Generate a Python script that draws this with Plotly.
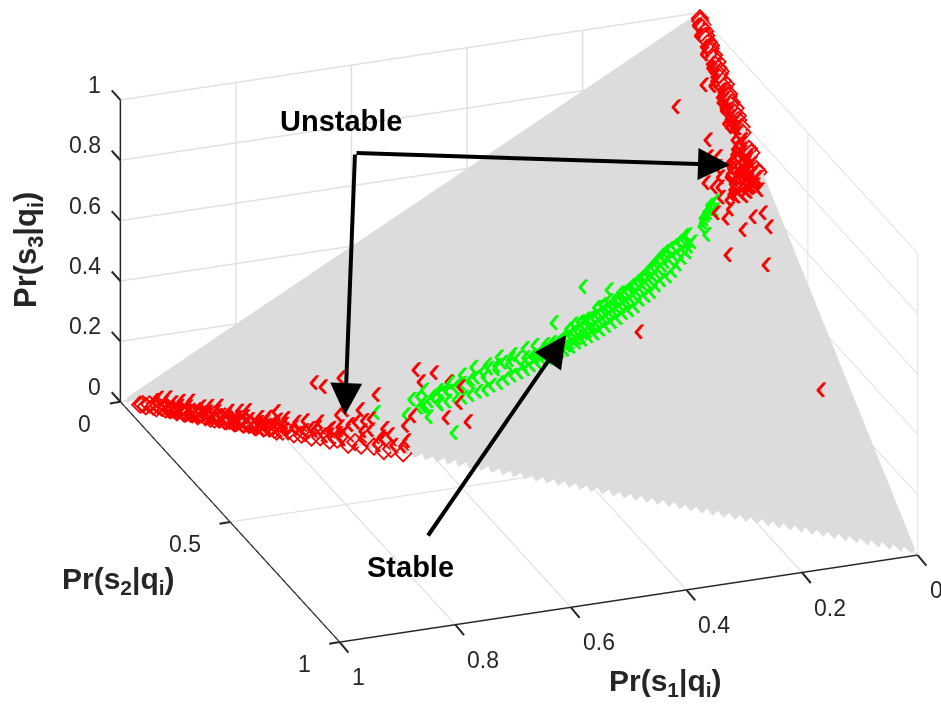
import numpy as np
import plotly.graph_objects as go

# Pr(s1|q), Pr(s3|q) for the red (unstable) points; Pr(s2|q) closes the simplex
red_s1 = [0.975,0.971,0.968,0.962,0.958,0.955,0.951,0.947,0.943,0.94,0.936,0.932,0.929,0.925,0.921,0.918,0.914,0.911,0.907,0.903,
0.9,0.896,0.893,0.889,0.885,0.882,0.878,0.875,0.871,0.867,0.864,0.86,0.857,0.853,0.849,0.846,0.842,0.838,0.835,0.831,
0.827,0.824,0.82,0.816,0.812,0.808,0.804,0.8,0.796,0.793,0.788,0.782,0.778,0.772,0.766,0.76,0.755,0.748,0.742,0.737,
0.731,0.726,0.72,0.714,0.709,0.703,0.697,0.691,0.686,0.68,0.675,0.669,0.663,0.658,0.652,0.644,0.7,0.678,0.675,0.651,
0.698,0.678,0.664,0.71,0.69,0.668,0.655,0.64,0.632,0.72,
0.7257,0.7157,0.6863,0.7934,0.648,0.5799,0.5797,0.557,0.5416,0.2557,0.0401,0.0461,0.0314,0.0816,
0.5416,0.528,0.5395,0.5655,0.5378,0.61,0.625,
0.001,0.002,0.001,0.003,0.001,0.002,0.004,0.002,0.001,0.003,0.005,0.002,0.004,0.001,0.006,0.003,0.002,0.005,0.007,0.004,
0.002,0.006,0.008,0.003,0.005,0.009,0.004,0.007,0.002,0.01,0.006,0.003,0.011,0.005,0.008,0.012,0.004,0.009,0.014,0.006,
0.0153,0.0205,0.0563,0.0642,0.0826,0.0739,0.048,0.0607,0.0855,0.0582,0.0374,0.0216,0.0211,0.0923,
0.0159,0.0131,0.0498,0.0196,0.012,0.018,0.024,0.028,0.008,0.032,0.014,0.02,0.036,0.01,0.026,0.03,0.006,0.022,0.04,0.016,
0.012,0.034,0.018,0.027,0.009,0.044,0.023,0.015,0.03,0.005,0.038,0.02,0.011,0.026,0.042,0.017,0.008,0.033,0.024,0.013,
0.028,0.046,0.019,0.007,0.035,0.022,0.05,0.012,0.031,0.016,0.009,0.04,0.025,0.014,0.037,0.006,0.021,0.029,0.048,0.011,
0.938,0.934,0.93,0.927,0.923,0.92,0.916,0.912,0.909,0.905,0.902,0.898,0.894,0.891,0.887,0.884,0.88,0.876,0.873,0.869,
0.866,0.862,0.859,0.855,0.851,0.848,0.844,0.84,0.837,0.833,0.829,0.826,0.822,0.818,0.814,0.81,0.806,0.802,0.798,0.794,
0.012,0.015,0.011,0.018,0.013,0.016,0.02,0.014,0.017,0.022,0.052,0.06,0.066,0.058,0.07,0.045,0.054,0.064,0.041,0.075,
0.952,0.945,0.941,0.933,0.928,0.922,0.917,0.91,0.904,0.899,0.892,0.886,0.881,0.874,0.868,0.861,0.856,0.85,0.843,0.838,
0.832,0.825,0.819,0.813,0.807,0.801,0.795,0.789,0.784,0.778,0.771,0.765,0.759,0.752,0.746,0.74,0.733,0.727,0.721,0.715,
0.009,0.012,0.01,0.014,0.009,0.013,0.011,0.015,0.01,0.016,0.012,0.018,0.011,0.017,0.013]
red_s3 = [0.002,0.004,0.001,0.006,0.003,0.001,0.007,0.004,0.002,0.008,0.003,0.005,0.001,0.007,0.004,0.002,0.009,0.003,0.006,0.001,
0.005,0.008,0.002,0.004,0.007,0.001,0.006,0.003,0.009,0.002,0.005,0.008,0.001,0.004,0.007,0.002,0.01,0.003,0.006,0.001,
0.005,0.009,0.002,0.012,0.004,0.007,0.001,0.01,0.003,0.013,0.006,0.002,0.016,0.004,0.009,0.002,0.02,0.006,0.012,0.003,
0.024,0.008,0.016,0.002,0.028,0.01,0.005,0.02,0.035,0.008,0.014,0.003,0.026,0.01,0.018,0.006,0.0424,0.0762,0.04,0.0377,
0.0704,0.056,0.03,0.058,0.05,0.062,0.048,0.02,0.032,0.012,
0.1125,0.108,0.1329,0.04,0.1124,0.1777,0.1556,0.1786,0.1664,0.3393,0.2932,0.5221,0.8583,0.8036,
0.1664,0.161,0.1282,0.0932,0.0937,0.084,0.062,
0.99,0.985,0.978,0.972,0.966,0.958,0.952,0.946,0.94,0.934,0.928,0.922,0.916,0.91,0.904,0.898,0.892,0.886,0.88,0.874,
0.868,0.862,0.856,0.85,0.845,0.84,0.834,0.829,0.824,0.82,0.815,0.81,0.806,0.801,0.797,0.793,0.789,0.785,0.781,0.778,
0.8168,0.7839,0.7498,0.7162,0.6631,0.6581,0.6839,0.6379,0.6069,0.5833,0.6131,0.625,0.5993,0.5275,
0.7188,0.6698,0.6502,0.7602,0.774,0.752,0.742,0.731,0.764,0.722,0.745,0.735,0.714,0.757,0.726,0.709,0.748,0.718,0.702,0.738,
0.729,0.696,0.712,0.703,0.734,0.69,0.706,0.724,0.698,0.741,0.685,0.711,0.727,0.693,0.68,0.704,0.72,0.688,0.676,0.7,
0.682,0.672,0.692,0.71,0.669,0.684,0.66,0.701,0.664,0.678,0.694,0.656,0.67,0.686,0.652,0.705,0.674,0.662,0.648,0.69,
0.003,0.006,0.002,0.005,0.008,0.001,0.004,0.007,0.003,0.009,0.002,0.006,0.004,0.008,0.001,0.005,0.01,0.003,0.007,0.002,
0.011,0.004,0.008,0.002,0.006,0.013,0.003,0.009,0.005,0.014,0.002,0.007,0.012,0.004,0.016,0.008,0.003,0.018,0.006,0.011,
0.89,0.87,0.85,0.83,0.81,0.8,0.86,0.84,0.82,0.79,0.72,0.68,0.66,0.7,0.64,0.69,0.65,0.62,0.71,0.6,
0.016,0.022,0.014,0.026,0.018,0.013,0.024,0.016,0.028,0.014,0.021,0.013,0.025,0.017,0.029,0.015,0.023,0.013,0.027,0.018,
0.031,0.014,0.022,0.016,0.026,0.013,0.024,0.018,0.03,0.015,0.027,0.013,0.033,0.017,0.024,0.036,0.014,0.028,0.02,0.034,
0.975,0.955,0.935,0.92,0.905,0.895,0.88,0.865,0.855,0.84,0.828,0.815,0.805,0.795,0.785]

# green (stable) points
grn_s1 = [0.6579,0.6182,0.5893,0.5662,0.5628,0.588,0.3071,0.2734,0.3663,
0.602,0.596,0.59,0.585,0.578,0.572,0.566,0.56,0.554,0.548,0.542,0.536,0.53,0.525,0.519,0.513,0.507,0.502,0.496,0.49,0.485,
0.479,0.473,0.468,0.462,0.457,0.451,0.446,0.44,0.435,0.429,0.424,0.419,0.414,0.409,0.404,0.4,0.396,0.392,0.388,0.384,
0.381,0.378,0.375,0.372,0.369,0.366,0.363,0.36,0.357,0.354,0.351,0.348,0.345,0.342,0.339,0.336,0.333,0.33,0.327,0.324,
0.321,0.318,0.315,0.312,0.309,0.306,0.303,0.3,0.297,0.294,0.291,0.288,0.285,0.282,0.279,0.276,0.273,0.27,0.267,0.264,
0.261,0.258,0.255,0.252,0.249,0.246,0.243,0.24,0.237,0.234,0.231,0.228,0.225,0.222,0.219,0.216,0.213,0.21,0.207,0.204,
0.201,0.198,0.195,0.192,0.189,0.186,0.183,0.18,0.176,0.172,0.168,0.164,0.16,0.156,0.152,0.148,0.144,0.14,0.136,0.133,
0.112,0.108,0.104,0.1,0.096,0.092,0.09,0.098,0.106,0.085,0.08,0.11,
0.395,0.39,0.385,0.38,0.375,0.37,0.365,0.36,0.355,0.35,0.345,0.34,0.335,0.33,0.325,0.32,0.315,0.31,0.305,0.3,
0.295,0.29,0.285,0.28,0.275,0.27,0.265,0.26,0.255,0.25,0.245,0.24,0.235,0.23,0.225,0.22,0.215,0.21,0.205,0.2,
0.195,0.19,0.185,0.18,0.175,0.17,0.165,0.16,0.155,0.15,0.145,0.14,
0.59,0.57,0.55,0.53,0.51,0.49,0.47,0.45,0.43,0.41,0.58,0.56,0.54,0.52,0.5,0.48,0.46,0.44,0.42,0.405]
grn_s3 = [0.0764,0.0839,0.1068,0.1225,0.0663,0.0887,0.4078,0.4118,0.3247,
0.117,0.104,0.126,0.112,0.121,0.131,0.118,0.14,0.127,0.147,0.133,0.158,0.141,0.168,0.149,0.176,0.158,0.186,0.165,0.2,0.176,
0.209,0.184,0.217,0.195,0.226,0.204,0.234,0.213,0.24,0.222,0.244,0.232,0.25,0.24,0.258,0.248,0.266,0.253,0.272,0.26,
0.277,0.266,0.284,0.272,0.29,0.279,0.296,0.285,0.3,0.292,0.307,0.298,0.314,0.303,0.32,0.31,0.326,0.316,0.331,0.322,
0.338,0.328,0.345,0.334,0.35,0.342,0.357,0.347,0.364,0.354,0.37,0.36,0.376,0.367,0.382,0.373,0.39,0.379,0.396,0.385,
0.402,0.392,0.41,0.398,0.417,0.405,0.425,0.413,0.432,0.42,0.44,0.428,0.447,0.436,0.454,0.443,0.462,0.45,0.47,0.458,
0.478,0.466,0.486,0.474,0.494,0.482,0.502,0.49,0.51,0.498,0.518,0.506,0.526,0.514,0.535,0.522,0.543,0.53,0.552,0.54,
0.575,0.583,0.59,0.598,0.604,0.612,0.62,0.605,0.592,0.6125,0.63,0.56,
0.255,0.278,0.262,0.284,0.268,0.29,0.276,0.302,0.284,0.318,0.295,0.33,0.303,0.337,0.312,0.345,0.32,0.353,0.33,0.372,
0.34,0.38,0.35,0.39,0.36,0.396,0.372,0.41,0.38,0.418,0.39,0.43,0.405,0.44,0.415,0.45,0.425,0.462,0.44,0.475,
0.452,0.49,0.462,0.5,0.475,0.515,0.49,0.525,0.505,0.535,0.518,0.55,
0.112,0.128,0.15,0.165,0.18,0.19,0.21,0.225,0.23,0.25,0.14,0.145,0.165,0.185,0.205,0.215,0.235,0.245,0.262,0.272]

red_s1 = np.array(red_s1); red_s3 = np.array(red_s3); grn_s1 = np.array(grn_s1); grn_s3 = np.array(grn_s3)
red_s2 = 1 - red_s1 - red_s3
grn_s2 = 1 - grn_s1 - grn_s3

s1_ticks = [0,0.2,0.4,0.6,0.8,1]
s2_ticks = [0,0.5,1]
s3_ticks = [0,0.2,0.4,0.6,0.8,1]

W, H = 941, 708
GRAY = '#dcdcdc'
DARK = '#262626'
LIFT = (0.0026, 0.0068, 0.006)   # towards the viewer only, so the glyph clears the surface

# the grey simplex, with the saw-toothed lower edge
n = 72
eps = 0.012
t = np.linspace(0, 1, n + 1)
vx = [1 - eps, 0, 0]; vy = [0, 1 - eps, 0]; vz = [eps, eps, 1]
ti, tj, tk = [0], [1], [2]
for a, b in zip(t[:-1], t[1:]):
    m = (a + b) / 2
    base = len(vx)
    vx += [(1-eps)*(1-a), (1-eps)*(1-b), 1-m]
    vy += [(1-eps)*a, (1-eps)*b, m]
    vz += [eps, eps, 0]
    ti.append(base); tj.append(base+1); tk.append(base+2)

fig = go.Figure()
fig.add_trace(go.Mesh3d(x=vx, y=vy, z=vz, i=ti, j=tj, k=tk, color=GRAY, flatshading=True,
    lighting=dict(ambient=1, diffuse=0, specular=0, roughness=1, fresnel=0), hoverinfo='skip'))

def add_points(s1, s2, s3, color, name):
    edge = (s3 < 0.012) | (s1 < 0.008)
    fig.add_trace(go.Scatter3d(x=s1[edge], y=s2[edge], z=s3[edge], mode='markers', name=name,
        marker=dict(symbol='diamond-open', size=6, color=color, line=dict(color=color, width=2))))
    inner = ~edge
    fig.add_trace(go.Scatter3d(x=s1[inner] + LIFT[0], y=s2[inner] + LIFT[1], z=s3[inner] + LIFT[2],
        mode='text', name=name, text=['\u2039'] * int(inner.sum()), textposition='middle center',
        textfont=dict(family='Liberation Sans', size=40, color=color)))
add_points(red_s1, red_s2, red_s3, '#ff0000', 'Unstable')
add_points(grn_s1, grn_s2, grn_s3, '#00ff00', 'Stable')

ax = dict(showbackground=False, showgrid=True, gridcolor='#e0e0e0', gridwidth=3, showline=True,
    linecolor=DARK, linewidth=3, ticks='', showticklabels=False,
    zeroline=False, title='', range=[0, 1], showspikes=False)

def px(x, y):
    return x / W, 1 - y / H

anns = []
def label(text, x, y, size, angle=0):
    a, b = px(x, y)
    anns.append(dict(xref='paper', yref='paper', x=a, y=b, text=text, showarrow=False, textangle=angle,
        font=dict(family='Liberation Sans', size=size, color=DARK if '<sub>' in text else 'black'),
        xanchor='center', yanchor='middle'))
def arrow(x0, y0, x1, y1):
    a, b = px(x1, y1)
    anns.append(dict(xref='paper', yref='paper', x=a, y=b, ax=x0 - x1, ay=y0 - y1, axref='pixel', ayref='pixel',
        text='', showarrow=True, arrowhead=2, arrowsize=1.6, arrowwidth=4, arrowcolor='black', standoff=0))

label('<b>Unstable</b>', 341, 121, 29)
label('<b>Stable</b>', 410, 567, 29)
label('<b>Pr(s<sub>1</sub>|q<sub>i</sub>)</b>', 665, 682, 30)
label('<b>Pr(s<sub>2</sub>|q<sub>i</sub>)</b>', 118, 580, 30)
label('<b>Pr(s<sub>3</sub>|q<sub>i</sub>)</b>', 28, 250, 31, -90)
arrow(355, 153, 730, 165)
arrow(355, 153, 345, 415)
arrow(427, 537, 566, 335)

# ticks and tick labels anchored in data space
scene_anns = []
TF = dict(family='Liberation Sans', size=23, color=DARK)
def tick(x, y, z, dx, dy):
    scene_anns.append(dict(x=x, y=y, z=z, text='', showarrow=True, arrowhead=0, arrowwidth=2, arrowcolor=DARK,
        ax=dx, ay=dy, standoff=0))
def ticklabel(x, y, z, v, anchor, xs, ys):
    scene_anns.append(dict(x=x, y=y, z=z, text=f'{v:g}', showarrow=False, font=TF, xanchor=anchor, yanchor='middle',
        xshift=xs, yshift=ys))
for v in s1_ticks:
    tick(v, 1, 0, 10, 12); ticklabel(v, 1, 0, v, 'left', 10, -35)
for v in s2_ticks:
    tick(1, v, 0, -12, 2); ticklabel(1, v, 0, v, 'right', -27, -22)
for v in s3_ticks:
    tick(1, 0, v, -10, -11); ticklabel(1, 0, v, v, 'right', -17, 15)

n_dir = np.array([0.31756, 0.85687, 0.40615])
c = np.array([0.1390, -0.0191, -0.0684])
e = c + 3 * n_dir
fig.update_layout(width=W, height=H, margin=dict(l=0, r=0, t=0, b=0), paper_bgcolor='white', showlegend=False,
    annotations=anns,
    scene=dict(domain=dict(x=[0, 1], y=[0, 1]), annotations=scene_anns,
        xaxis=dict(ax, tickvals=s1_ticks),
        yaxis=dict(ax, tickvals=s2_ticks),
        zaxis=dict(ax, tickvals=s3_ticks),
        aspectmode='manual', aspectratio=dict(x=1.741, y=1.783, z=0.933),
        camera=dict(projection=dict(type='orthographic'), up=dict(x=0, y=0, z=1),
            center=dict(x=c[0], y=c[1], z=c[2]), eye=dict(x=e[0], y=e[1], z=e[2]))))
fig.write_html("out.html", post_script="document.body.style.margin='0';", config=dict(displayModeBar=False))
